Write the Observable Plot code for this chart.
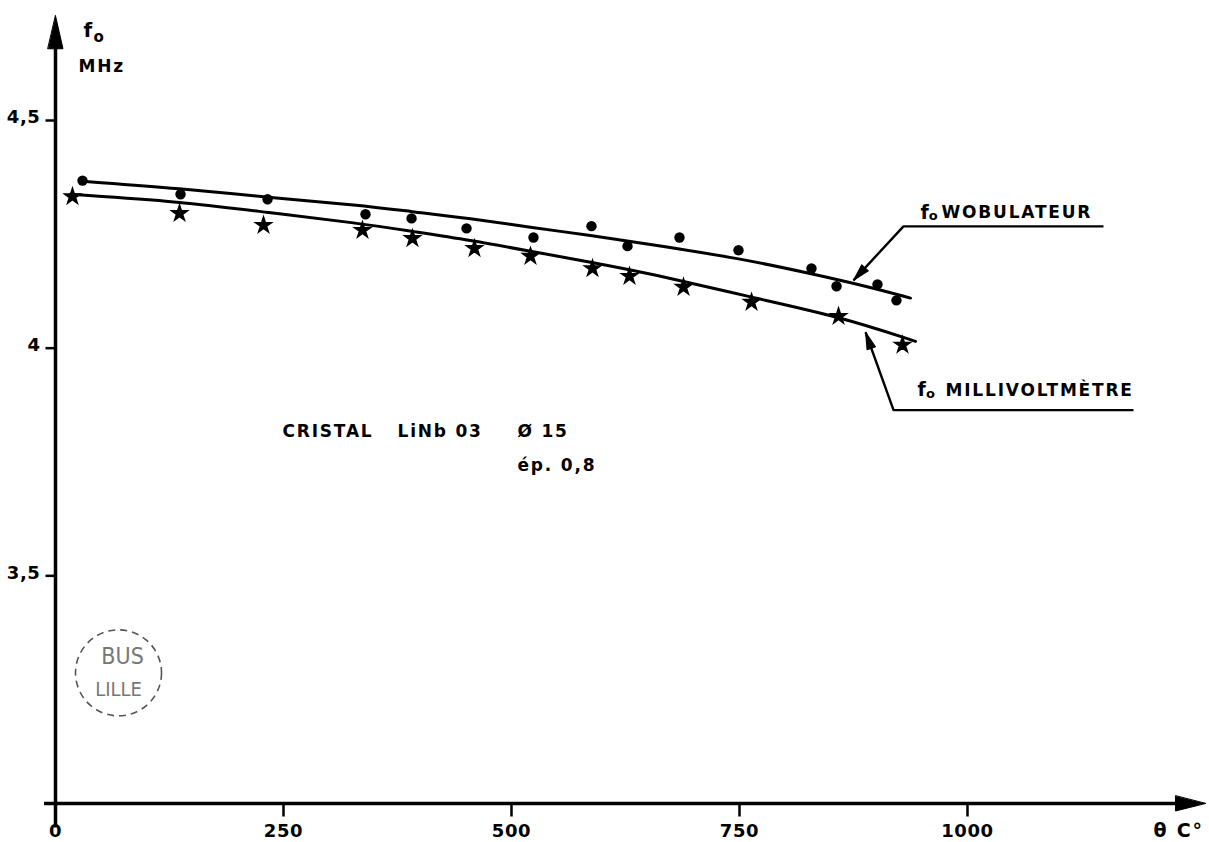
<!DOCTYPE html>
<html>
<head>
<meta charset="utf-8">
<script src="https://cdn.jsdelivr.net/npm/d3@7"></script>
<script src="https://cdn.jsdelivr.net/npm/@observablehq/plot@0.6"></script>
<style>
html, body { margin: 0; padding: 0; background: #fff; overflow: hidden; }
#chart svg .lbl text, #chart svg text.lbl { letter-spacing: 1.8px; }
#chart svg .num text { letter-spacing: 0.6px; }
</style>
</head>
<body>
<div id="chart"></div>
<script>
// ---- data (temperature °C, frequency MHz) ----
const wobTemp = [29.6, 137.1, 232.5, 339.9, 390.4, 450.7, 524.1, 587.7, 627.2, 684.2, 748.9, 828.9, 856.4, 901.3, 922.1];
const wobFreq = [4.368, 4.338, 4.327, 4.294, 4.285, 4.263, 4.243, 4.268, 4.224, 4.243, 4.215, 4.175, 4.136, 4.140, 4.105];

const milTemp = [18.6, 136.0, 228.1, 336.6, 391.4, 459.4, 520.8, 588.8, 629.4, 688.6, 763.2, 858.6, 928.7];
const milFreq = [4.333, 4.296, 4.270, 4.259, 4.241, 4.219, 4.202, 4.175, 4.158, 4.134, 4.101, 4.070, 4.007];

// hand-drawn fitted curves
const wobCurveTemp = [32.9, 137.1, 232.5, 334.4, 389.3, 455.0, 520.8, 586.6, 652.4, 751.1, 827.9, 893.6, 937.5];
const wobCurveFreq = [4.366, 4.351, 4.331, 4.314, 4.300, 4.285, 4.265, 4.248, 4.228, 4.197, 4.164, 4.134, 4.110];
const milCurveTemp = [16.4, 137.1, 232.5, 334.4, 389.3, 455.0, 520.8, 586.6, 652.4, 762.1, 858.6, 943.0];
const milCurveFreq = [4.338, 4.322, 4.298, 4.274, 4.257, 4.237, 4.213, 4.189, 4.164, 4.112, 4.070, 4.015];

const xTicks = [0, 250, 500, 750, 1000];
const xTickLabels = ["0", "250", "500", "750", "1000"];
const yTicks = [3.5, 4, 4.5];
const yTickLabels = ["3,5", "4", "4,5"];

const xTitle = "θ C°";
const yTitleMain = "f";
const yTitleSub = "o";
const yUnit = "MHz";
const wobLabel = "WOBULATEUR";
const milLabel = "MILLIVOLTMÈTRE";
const noteLine1 = ["CRISTAL", "LiNb 03", "Ø 15"];
const noteLine2 = "ép. 0,8";
const stampText = ["BUS", "LILLE"];

// annotation anchor points (data units)
const wobLeader = [[1149.1, 4.2675], [929.8, 4.2675], [875.0, 4.149]];
const milLeader = [[1182.0, 3.864], [918.9, 3.864], [888.2, 4.035]];
const noteTemps = [248.9, 375.0, 506.6];
const noteFreqs = [3.816, 3.743];

// ---- scales ----
const xDomain = [0, 1000], xRange = [55, 967];
const yDomain = [3, 4.5], yRange = [803, 120];
const sx = d3.scaleLinear(xDomain, xRange);
const sy = d3.scaleLinear(yDomain, yRange);
function angle(a, b) {
  const dx = sx(b[0]) - sx(a[0]), dy = sy(b[1]) - sy(a[1]);
  return Math.atan2(dx, -dy) * 180 / Math.PI;
}

const wob = wobTemp.map((t, i) => ({t, f: wobFreq[i]}));
const mil = milTemp.map((t, i) => ({t, f: milFreq[i]}));
const wobCurve = wobCurveTemp.map((t, i) => ({t, f: wobCurveFreq[i]}));
const milCurve = milCurveTemp.map((t, i) => ({t, f: milCurveFreq[i]}));
const xTickData = xTicks.map((v, i) => ({v, l: xTickLabels[i]}));
const yTickData = yTicks.map((v, i) => ({v, l: yTickLabels[i]}));

const triangle = {draw(ctx, l, r) { ctx.moveTo(0, -l); ctx.lineTo(r, 0); ctx.lineTo(-r, 0); ctx.closePath(); }};
const tickDown = {draw(ctx) { ctx.moveTo(0, 0); ctx.lineTo(0, 13); }};
const tickLeft = {draw(ctx) { ctx.moveTo(0, 0); ctx.lineTo(-10, 0); }};

const FONT = "DejaVu Sans, Verdana, sans-serif";
const STAMP_FONT = "DejaVu Sans Condensed, Liberation Sans Narrow, sans-serif";
const txt = {fontFamily: FONT, fontWeight: "bold", fill: "black", textAnchor: "start", className: "lbl"};
const num = {fontFamily: FONT, fontWeight: "bold", fill: "black", className: "num"};

const plot = Plot.plot({
  width: 1209,
  height: 842,
  margin: 0,
  x: {domain: xDomain, range: xRange, axis: null},
  y: {domain: yDomain, range: yRange, axis: null},
  style: {background: "white", fontFamily: FONT, fontSize: "17px", color: "black", overflow: "visible"},
  marks: [
    // axes
    Plot.ruleY([3], {x1: -12, x2: 1234, stroke: "black", strokeWidth: 3.5}),
    Plot.ruleX([0], {y1: 2.946, y2: 4.66, stroke: "black", strokeWidth: 3.5}),
    Plot.vector([{x: 0, y: 4.73}], {x: "x", y: "y", rotate: 0, length: 33, r: 7.5, anchor: "end", shape: triangle, fill: "black", stroke: "black", strokeWidth: 1}),
    Plot.vector([{x: 1261, y: 3}], {x: "x", y: "y", rotate: 90, length: 30, r: 7.5, anchor: "end", shape: triangle, fill: "black", stroke: "black", strokeWidth: 1}),
    Plot.dot(xTicks, {x: d => d, y: 3, symbol: tickDown, fill: "none", stroke: "black", strokeWidth: 2.5}),
    Plot.dot(yTicks, {x: 0, y: d => d, symbol: tickLeft, fill: "none", stroke: "black", strokeWidth: 2.5}),
    Plot.text(xTickData, {...num, x: "v", y: 3, text: "l", dy: 28, fontSize: 18, textAnchor: "middle"}),
    Plot.text(yTickData, {...num, x: 0, y: "v", text: "l", dx: -15, dy: -3, fontSize: 18, textAnchor: "end"}),
    Plot.text([xTitle], {...txt, x: 1204, y: 3, text: d => d, dy: 27, fontSize: 19}),
    Plot.text([yTitleMain], {...txt, x: 30.7, y: 4.697, text: d => d, fontSize: 20}),
    Plot.text([yTitleSub], {...txt, x: 41.7, y: 4.684, text: d => d, fontSize: 15}),
    Plot.text([yUnit], {...txt, x: 25.2, y: 4.618, text: d => d, fontSize: 17}),

    // fitted curves
    Plot.line(wobCurve, {x: "t", y: "f", curve: "basis", stroke: "black", strokeWidth: 3}),
    Plot.line(milCurve, {x: "t", y: "f", curve: "basis", stroke: "black", strokeWidth: 3}),

    // measured points
    Plot.dot(wob, {x: "t", y: "f", symbol: "circle", r: 5.2, fill: "black", stroke: "none"}),
    Plot.dot(mil, {x: "t", y: "f", symbol: "star", r: 5, fill: "black", stroke: "black", strokeWidth: 1.5}),

    // leader lines and their arrowheads
    Plot.line(wobLeader, {x: d => d[0], y: d => d[1], stroke: "black", strokeWidth: 2.4, strokeLinecap: "butt"}),
    Plot.line(milLeader, {x: d => d[0], y: d => d[1], stroke: "black", strokeWidth: 2.4, strokeLinecap: "butt"}),
    Plot.vector([wobLeader[2]], {x: d => d[0], y: d => d[1], rotate: angle(wobLeader[1], wobLeader[2]), length: 17, r: 4.5, anchor: "end", shape: triangle, fill: "black", stroke: "black", strokeWidth: 1}),
    Plot.vector([milLeader[2]], {x: d => d[0], y: d => d[1], rotate: angle(milLeader[1], milLeader[2]), length: 17, r: 4.5, anchor: "end", shape: triangle, fill: "black", stroke: "black", strokeWidth: 1}),

    // series labels
    Plot.text([yTitleMain], {...txt, x: 948.5, y: 4.298, text: d => d, fontSize: 19}),
    Plot.text([yTitleSub], {...txt, x: 957.5, y: 4.290, text: d => d, fontSize: 13}),
    Plot.text([wobLabel], {...txt, x: 971.5, y: 4.298, text: d => d, fontSize: 17}),
    Plot.text([yTitleMain], {...txt, x: 945.2, y: 3.908, text: d => d, fontSize: 19}),
    Plot.text([yTitleSub], {...txt, x: 954.5, y: 3.900, text: d => d, fontSize: 13}),
    Plot.text([milLabel], {...txt, x: 975.9, y: 3.908, text: d => d, fontSize: 17}),

    // sample note
    Plot.text(noteLine1.map((s, i) => ({s, t: noteTemps[i]})), {...txt, x: "t", y: noteFreqs[0], text: "s", fontSize: 17}),
    Plot.text([noteLine2], {...txt, x: noteTemps[2], y: noteFreqs[1], text: d => d, fontSize: 17}),

    // library stamp
    Plot.dot([{x: 69.1, y: 3.287}], {x: "x", y: "y", r: 43, fill: "none", stroke: "#555", strokeWidth: 1.6, strokeDasharray: "7 5"}),
    Plot.text([stampText[0]], {x: 73.5, y: 3.322, text: d => d, fontFamily: STAMP_FONT, fontSize: 23, fill: "#777", textAnchor: "middle"}),
    Plot.text([stampText[1]], {x: 69.1, y: 3.250, text: d => d, fontFamily: STAMP_FONT, fontSize: 20, fill: "#777", textAnchor: "middle"})
  ]
});

document.getElementById("chart").appendChild(plot);
</script>
</body>
</html>
